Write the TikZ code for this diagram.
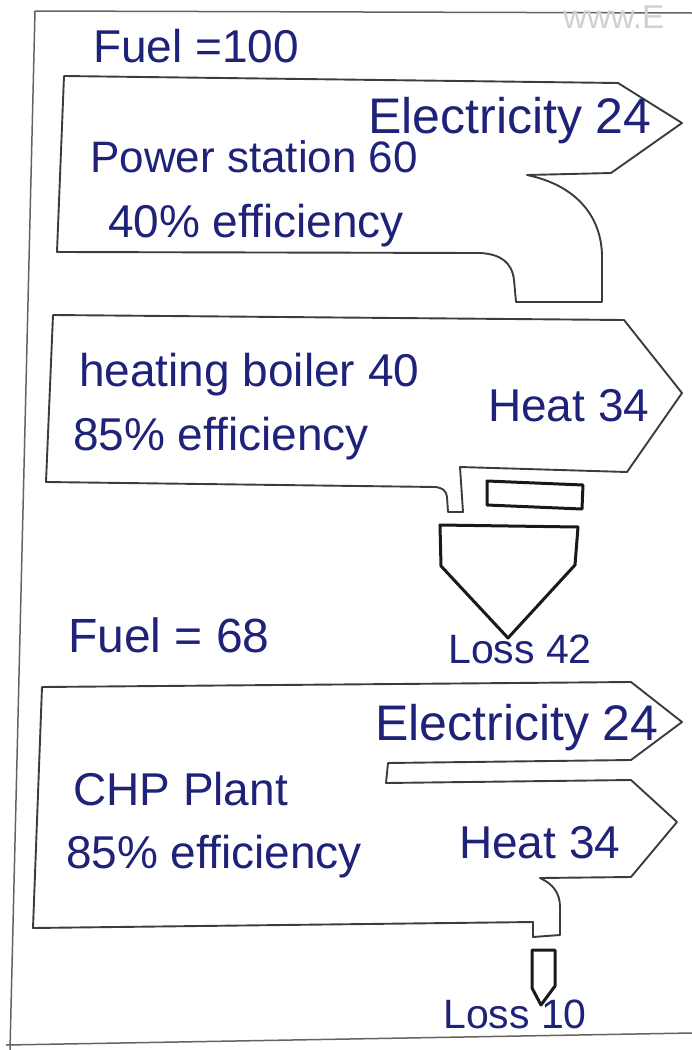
\documentclass[tikz,border=0pt]{standalone}
\usepackage{fontspec}
\setmainfont{Liberation Sans}
\usepackage{tikz}
\definecolor{ink}{RGB}{30,34,120}
\definecolor{pencil}{RGB}{60,60,60}
\definecolor{watermark}{RGB}{208,208,208}

\begin{document}
\begin{tikzpicture}[
					x=1pt, y=-1pt,
					txt/.style={text=ink, font=\fontsize{46}{50}\selectfont, inner sep=0pt, anchor=base west},
					bigtxt/.style={txt, font=\fontsize{50}{54}\selectfont},
					smalltxt/.style={txt, font=\fontsize{41}{45}\selectfont},
					flowbox/.style={draw=pencil, line width=1.9pt, line join=round},
					lossbox/.style={draw=black!90, line width=3pt, line join=round},
					sheet/.style={draw=pencil!80, line width=1.5pt}
				]
				\useasboundingbox (0,0) rectangle (692,1050);

				% Sheet border
				\draw[sheet] (35,11) -- (692,13);
				\draw[sheet] (35,11) -- (10,1050);
				\draw[sheet] (6,1045) -- (692,1033);
				\node[anchor=base west, inner sep=0pt, text=watermark, font=\fontsize{33}{36}\selectfont] (site) at (563,28) {www.E};

				% 1. Power station
				\draw[flowbox] (64,76) -- (618,83) -- (682,123) -- (611,173) -- (527,175)
					.. controls (575,185) and (601,215) .. (602,255) -- (602,302) -- (516,302)
					-- (514,280) .. controls (512,262) and (500,254) .. (480,253) -- (57,252) -- cycle;
				\node[txt] (fuelA) at (93,62) {Fuel =100};
				\node[bigtxt] (elecA) at (368,133) {Electricity 24};
				\node[txt, font=\fontsize{44}{48}\selectfont] (plantA) at (90,172) {Power station 60};
				\node[txt] (effA) at (108,237) {40\% efficiency};

				% 2. Heating boiler
				\draw[flowbox] (53,315) -- (624,320) -- (682,393) -- (627,472) -- (460,467)
					-- (463,512) -- (448,512) -- (447,497) .. controls (446,490) and (442,488) .. (436,487)
					-- (46,482) -- cycle;
				\draw[lossbox] (487,481) -- (583,485) -- (582,509) -- (487,505) -- cycle;
				\draw[lossbox] (440,525) -- (578,527) -- (575,565) -- (508,638) -- (441,566) -- cycle;
				\node[txt] (plantB) at (79,386) {heating boiler 40};
				\node[txt] (effB) at (73,450) {85\% efficiency};
				\node[txt] (heatB) at (488,421) {Heat 34};
				\node[smalltxt] (lossB) at (448,663) {Loss 42};

				% 3. CHP plant
				\node[txt, font=\fontsize{48}{52}\selectfont] (fuelC) at (68,652) {Fuel = 68};
				\draw[flowbox] (42,687) -- (631,682) -- (682,722) -- (631,760) -- (388,763) -- (386,783)
					-- (631,780) -- (677,822) -- (631,877) -- (540,878)
					.. controls (553,884) and (560,893) .. (560,907) -- (560,935) -- (533,937)
					-- (533,922) -- (33,928) -- cycle;
				\draw[lossbox] (532,950) -- (555,950) -- (555,986) -- (541,1005) -- (532,988) -- cycle;
				\node[bigtxt] (elecC) at (375,740) {Electricity 24};
				\node[txt] (plantC) at (73,805) {CHP Plant};
				\node[txt] (effC) at (66,868) {85\% efficiency};
				\node[txt] (heatC) at (459,858) {Heat 34};
				\node[smalltxt] (lossC) at (443,1028) {Loss 10};

			\end{tikzpicture}
\end{document}
